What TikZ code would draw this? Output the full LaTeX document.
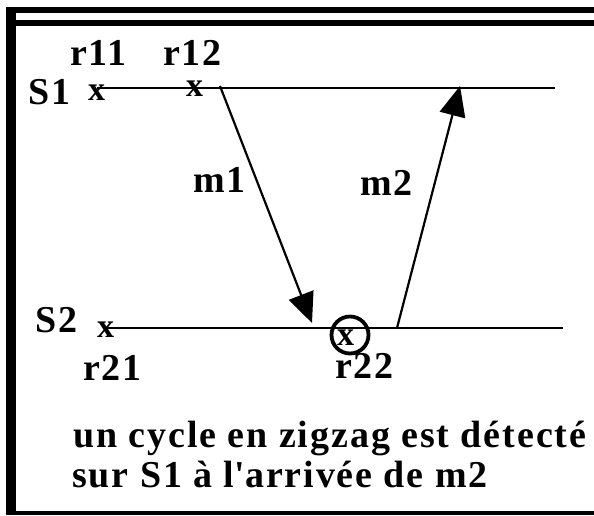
\documentclass[tikz,border=0pt]{standalone}
\usepackage{fontspec}
\setmainfont{Liberation Serif}[LetterSpace=5]
\usetikzlibrary{arrows.meta}
\begin{document}
\begin{tikzpicture}[x=1pt,y=-1pt,
  lbl/.style={anchor=base west,inner sep=0pt,text depth=0pt,font=\fontsize{38}{44}\selectfont\bfseries},
  xmark/.style={anchor=base west,inner sep=0pt,text height=0.45em,text depth=0pt,font=\fontsize{34}{40}\selectfont\bfseries},
  timeline/.style={line width=2.6pt},
  msg/.style={line width=2.2pt,-{Triangle[length=30pt,width=26pt]}},
  frm/.style={fill=black,draw=none}]
\useasboundingbox (0,0) rectangle (594,515);
% frame
\fill[frm] (6,7) rectangle (594,13);
\fill[frm] (6,7) rectangle (16,515);
\fill[frm] (16,20) rectangle (594,26);
\fill[frm] (6,511) rectangle (594,515);
% time lines
\coordinate (s1a) at (97,88);
\coordinate (s1b) at (555,88);
\coordinate (s2a) at (107,328);
\coordinate (s2b) at (563,328);
\draw[timeline] (s1a) -- (s1b);
\draw[timeline] (s2a) -- (s2b);
% labels
\node[lbl] (S1) at (28,104) {S1};
\node[lbl] (r11) at (70,65) {r11};
\node[lbl] (r12) at (163,65) {r12};
\node[xmark] (x1) at (88,100) {x};
\node[xmark] (x2) at (186,96) {x};
\node[lbl] (S2) at (35,332) {S2};
\node[xmark] (x3) at (97,337) {x};
\node[lbl] (r21) at (83,380) {r21};
\node[lbl] (r22) at (335,378) {r22};
\node[xmark] (x4) at (337,345) {x};
\node[draw,circle,line width=3.8pt,minimum size=37pt,inner sep=0pt] (c22) at (350,335) {};
\node[lbl] (m1) at (193,192) {m1};
\node[lbl] (m2) at (360,195) {m2};
% messages
\coordinate (m1s) at (220,86);
\coordinate (m1e) at (312,323);
\coordinate (m2s) at (397,328);
\coordinate (m2e) at (460,86);
\draw[msg] (m1s) -- (m1e);
\draw[msg] (m2s) -- (m2e);
% caption
\node[lbl] (t1) at (73,447) {un cycle en zigzag est détecté};
\node[lbl] (t2) at (72,487) {sur S1 à l\textquotesingle arrivée de m2};
\end{tikzpicture}
\end{document}
